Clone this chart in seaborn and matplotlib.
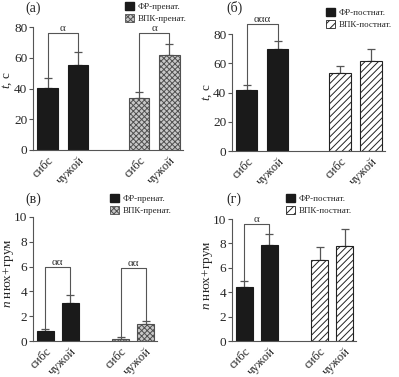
import numpy as np
import pandas as pd
import seaborn as sns
import matplotlib.pyplot as plt
import matplotlib.transforms as mtransforms
from matplotlib.patches import Patch

sns.set_style('ticks')
plt.rcParams['font.family'] = ['Liberation Serif', 'DejaVu Serif']
plt.rcParams['mathtext.fontset'] = 'custom'
plt.rcParams['mathtext.it'] = 'Liberation Serif:italic'
plt.rcParams['mathtext.rm'] = 'Liberation Serif'
plt.rcParams['hatch.linewidth'] = 0.7

pos = [0, 1, 3, 4]
labels = ['сибс', 'чужой', 'сибс', 'чужой']

t_pre_mean = [40.5, 55.5, 34, 62]
t_pre_err = [6.5, 8.5, 4, 7]
t_post_mean = [41.5, 70, 53.5, 61.5]
t_post_err = [3.5, 5, 4.5, 8]
n_pre_mean = [0.8, 3.1, 0.2, 1.4]
n_pre_err = [0.2, 0.6, 0.1, 0.2]
n_post_mean = [4.4, 7.9, 6.6, 7.8]
n_post_err = [0.5, 0.9, 1.1, 1.4]

brackets_a = [(0, 1, 76, 'α'), (2, 3, 76, 'α')]
brackets_b = [(0, 1, 87, 'ααα')]
brackets_c = [(0, 1, 6.0, 'αα'), (2, 3, 5.85, 'αα')]
brackets_d = [(0, 1, 9.6, 'α')]

GRAY = '#555555'
PRE_FACE, PRE_EDGE = '#c8c8c8', '#505050'

fig = plt.figure(figsize=(3.99, 3.77), dpi=100)

panels = [
    dict(rect=[33/399, 1-150/377, 150/399, 123/377], mean=t_pre_mean, err=t_pre_err,
         ymax=80, yticks=[0, 20, 40, 60, 80], ylabel='$t$, с', br=brackets_a,
         lab_xy=(-0.125, 0.57),
         tag='(а)', tagxy=(25/399, 1-8/377), kind='pre',
         leg=['ФР-пренат.', 'ВПК-пренат.'], legxy=(123/399, 1-0/377)),
    dict(rect=[232/399, 1-151/377, 153/399, 117/377], mean=t_post_mean, err=t_post_err,
         ymax=80, yticks=[0, 20, 40, 60, 80], ylabel='$t$, с', br=brackets_b,
         lab_xy=(-0.115, 0.50),
         tag='(б)', tagxy=(226/399, 1-8/377), kind='post',
         leg=['ФР-постнат.', 'ВПК-постнат.'], legxy=(324/399, 1-6/377)),
    dict(rect=[33/399, 1-341/377, 124/399, 124/377], mean=n_pre_mean, err=n_pre_err,
         ymax=10, yticks=[0, 2, 4, 6, 8, 10], ylabel='$n$ нюх+грум', br=brackets_c,
         lab_xy=(-0.14, 0.55),
         tag='(в)', tagxy=(25/399, 1-199/377), kind='pre',
         leg=['ФР-пренат.', 'ВПК-пренат.'], legxy=(108/399, 1-192/377)),
    dict(rect=[232/399, 1-341/377, 124/399, 122/377], mean=n_post_mean, err=n_post_err,
         ymax=10, yticks=[0, 2, 4, 6, 8, 10], ylabel='$n$ нюх+грум', br=brackets_d,
         lab_xy=(-0.135, 0.54),
         tag='(г)', tagxy=(226/399, 1-199/377), kind='post',
         leg=['ФР-постнат.', 'ВПК-постнат.'], legxy=(284/399, 1-192/377)),
]

shift = mtransforms.ScaledTranslation(4/100, 1/100, fig.dpi_scale_trans)

for p in panels:
    ax = fig.add_axes(p['rect'])
    df = pd.DataFrame({'pos': pos, 'mean': p['mean']})
    sns.barplot(data=df, x='pos', y='mean', native_scale=True, width=0.68,
                color='#1a1a1a', errorbar=None, ax=ax, zorder=2)
    for k, bar in enumerate(ax.patches):
        if k < 2:
            bar.set_facecolor('#1a1a1a')
            bar.set_edgecolor('#1a1a1a')
        elif p['kind'] == 'pre':
            bar.set_facecolor(PRE_FACE)
            bar.set_edgecolor(PRE_EDGE)
            bar.set_hatch('xxxxxx')
        else:
            bar.set_facecolor('white')
            bar.set_edgecolor('#222222')
            bar.set_hatch('/////')
        bar.set_linewidth(0.8)
    ax.errorbar(pos, p['mean'], yerr=[np.zeros(4), p['err']], fmt='none',
                ecolor=GRAY, elinewidth=0.9, capsize=3, capthick=0.9, zorder=1)
    tops = np.array(p['mean']) + np.array(p['err'])
    for i, j, h, lab in p['br']:
        ax.plot([pos[i], pos[i], pos[j], pos[j]], [tops[i], h, h, tops[j]],
                color=GRAY, lw=0.8, clip_on=False, zorder=3)
        ax.text((pos[i]+pos[j])/2, h, lab, ha='center', va='bottom',
                fontsize=8, color='#333333')
    ax.set_xlim(-0.48, 4.45)
    ax.set_ylim(0, p['ymax'])
    ax.set_yticks(p['yticks'])
    ax.set_xticks(pos)
    ax.set_xticklabels(labels, rotation=45, ha='right', rotation_mode='anchor',
                       fontsize=9)
    for t in ax.get_xticklabels():
        t.set_transform(t.get_transform() + shift)
    ax.tick_params(axis='x', length=0, pad=3)
    ax.tick_params(axis='y', labelsize=9.5, length=3, width=0.8, color=GRAY, pad=1)
    ax.set_xlabel('')
    ax.set_ylabel(p['ylabel'], fontsize=9.5)
    ax.yaxis.set_label_coords(*p['lab_xy'])
    for s in ['top', 'right']:
        ax.spines[s].set_visible(False)
    for s in ['left', 'bottom']:
        ax.spines[s].set_color(GRAY)
        ax.spines[s].set_linewidth(0.8)
    fig.text(p['tagxy'][0], p['tagxy'][1], p['tag'], fontsize=10, va='center')
    if p['kind'] == 'pre':
        h2 = Patch(facecolor=PRE_FACE, edgecolor=PRE_EDGE, hatch='xxxxxx', lw=0.6)
    else:
        h2 = Patch(facecolor='white', edgecolor='#222222', hatch='////', lw=0.6)
    h1 = Patch(facecolor='#1a1a1a', edgecolor='#1a1a1a')
    fig.legend([h1, h2], p['leg'], loc='upper left', bbox_to_anchor=p['legxy'],
               frameon=False, fontsize=6.5, handlelength=1.0, handleheight=1.0,
               handletextpad=0.4, labelspacing=0.35, borderpad=0.2, borderaxespad=0)

fig.savefig('out.png', dpi=100)
